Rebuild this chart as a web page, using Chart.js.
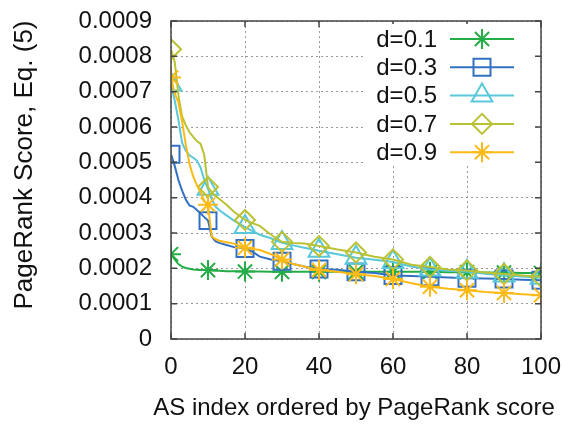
<!DOCTYPE html>
<html>
<head>
<meta charset="utf-8">
<script src="https://cdn.jsdelivr.net/npm/chart.js@4/dist/chart.umd.min.js"></script>
<style>
  html, body { margin: 0; padding: 0; background: #fff; }
  #wrap { width: 563px; height: 424px; }
</style>
</head>
<body>
<div id="wrap"><canvas id="pr_chart"></canvas></div>
<script>
// x positions (AS index) shared by all curves, markers drawn every 10
var xs = [0,1,2,3,4,5,6,7,8,9,10,11,12,13,15,17,20,22,24,27,30,33,36,40,45,50,55,60,65,70,75,80,85,90,95,100];

var d01 = [0.000240,0.000225,0.000212,0.000205,0.000201,0.000199,0.000197,0.000196,0.000195,0.000195,0.000195,0.000194,0.000193,0.000193,0.000192,0.000192,0.000191,0.000191,0.000191,0.000190,0.000190,0.000190,0.000190,0.000190,0.000190,0.000190,0.000190,0.000190,0.000190,0.000190,0.000189,0.000189,0.000188,0.000188,0.000187,0.000187];
var d03 = [0.000523,0.000490,0.000450,0.000420,0.000395,0.000378,0.000374,0.000365,0.000355,0.000345,0.000335,0.000290,0.000277,0.000272,0.000266,0.000260,0.000256,0.000247,0.000233,0.000225,0.000220,0.000212,0.000205,0.000198,0.000196,0.000190,0.000187,0.000180,0.000178,0.000176,0.000174,0.000172,0.000171,0.000170,0.000168,0.000166];
var d05 = [0.000720,0.000675,0.000620,0.000555,0.000533,0.000520,0.000513,0.000505,0.000485,0.000450,0.000425,0.000395,0.000375,0.000365,0.000350,0.000335,0.000317,0.000305,0.000295,0.000285,0.000272,0.000265,0.000258,0.000250,0.000240,0.000230,0.000224,0.000218,0.000205,0.000197,0.000193,0.000190,0.000185,0.000180,0.000177,0.000173];
var d07 = [0.000820,0.000785,0.000690,0.000630,0.000605,0.000585,0.000572,0.000560,0.000552,0.000520,0.000430,0.000415,0.000405,0.000397,0.000380,0.000360,0.000337,0.000328,0.000320,0.000295,0.000275,0.000272,0.000270,0.000263,0.000253,0.000245,0.000233,0.000225,0.000210,0.000204,0.000197,0.000194,0.000188,0.000184,0.000180,0.000176];
var d09 = [0.000740,0.000695,0.000670,0.000615,0.000550,0.000495,0.000460,0.000435,0.000415,0.000390,0.000380,0.000290,0.000283,0.000278,0.000274,0.000270,0.000258,0.000255,0.000252,0.000240,0.000225,0.000212,0.000205,0.000195,0.000190,0.000183,0.000178,0.000170,0.000158,0.000148,0.000142,0.000138,0.000133,0.000130,0.000127,0.000124];

var seriesNames = ["d=0.1", "d=0.3", "d=0.5", "d=0.7", "d=0.9"];
var yTicks = [0, 0.0001, 0.0002, 0.0003, 0.0004, 0.0005, 0.0006, 0.0007, 0.0008, 0.0009];
var xTicks = [0, 20, 40, 60, 80, 100];
var xTitle = 'AS index ordered by PageRank score';
var yTitle = 'PageRank Score, Eq. (5)';

var colors = ["rgb(36,172,70)", "rgb(50,112,196)", "rgb(88,200,218)", "rgb(186,194,52)", "rgb(253,186,22)"];
var styles = ["star", "rect", "triangle", "rectRot", "star"];
var radii = [10, 12, 12, 10, 10];
var FONT = "'Liberation Sans', Arial, sans-serif";

function toPoints(ys) {
    var pts = [];
    for (var i = 0; i < xs.length; i++) {
        pts.push({x: xs[i], y: ys[i]});
    }
    return pts;
}

function makeDataset(i, ys) {
    return {
        label: seriesNames[i],
        data: toPoints(ys),
        borderColor: colors[i],
        backgroundColor: colors[i],
        borderWidth: 2,
        tension: 0,
        pointStyle: styles[i],
        pointBorderColor: colors[i],
        pointBackgroundColor: 'rgba(0,0,0,0)',
        pointBorderWidth: 2,
        pointRadius: function (ctx) {
            return (xs[ctx.dataIndex] % 10 === 0) ? radii[i] : 0;
        },
        order: 5 - i
    };
}

function noOverhang(s) {
    s.paddingLeft = 0;
    s.paddingRight = 0;
    s.paddingTop = 0;
    s.paddingBottom = 0;
}

// box around the plot, inward ticks, axis titles and the legend
var frame = {
    id: 'frame',
    afterDatasetsDraw: function (chart) {
        var c = chart.ctx, a = chart.chartArea;
        var sx = chart.scales.x, sy = chart.scales.y;
        c.save();
        c.strokeStyle = '#444';
        c.lineWidth = 1.5;
        c.strokeRect(a.left, a.top, a.right - a.left, a.bottom - a.top);
        c.beginPath();
        xTicks.forEach(function (v) {
            var px = sx.getPixelForValue(v);
            c.moveTo(px, a.bottom); c.lineTo(px, a.bottom - 6);
            c.moveTo(px, a.top); c.lineTo(px, a.top + 6);
        });
        yTicks.forEach(function (v) {
            var py = sy.getPixelForValue(v);
            c.moveTo(a.left, py); c.lineTo(a.left + 6, py);
            c.moveTo(a.right, py); c.lineTo(a.right - 6, py);
        });
        c.stroke();
        c.restore();
    },
    afterDraw: function (chart) {
        var c = chart.ctx;
        c.save();
        // axis titles
        c.fillStyle = '#111';
        c.font = "24px " + FONT;
        c.textAlign = 'center';
        c.textBaseline = 'middle';
        c.fillText(xTitle, 354, 408);
        c.save();
        c.translate(25, 165);
        c.rotate(-Math.PI / 2);
        c.font = "26px " + FONT;
        c.fillText(yTitle, 0, 0);
        c.restore();

        // legend: text on the left, line + marker sample on the right
        c.fillStyle = '#fff';
        c.fillRect(364, 24, 170, 142);
        c.font = "24px " + FONT;
        c.textAlign = 'right';
        for (var i = 0; i < seriesNames.length; i++) {
            var y = 39 + i * 28.3;
            c.fillStyle = '#111';
            c.fillText(seriesNames[i], 437, y + 1);
            c.strokeStyle = colors[i];
            c.lineWidth = 2;
            c.beginPath();
            c.moveTo(450, y); c.lineTo(514, y);
            c.stroke();
            c.fillStyle = 'rgba(0,0,0,0)';
            Chart.helpers.drawPoint(c, {pointStyle: styles[i], radius: radii[i], rotation: 0, borderWidth: 2}, 482, y);
        }
        c.restore();
    }
};

new Chart(document.getElementById("pr_chart").getContext("2d"), {
    type: 'line',
    data: {
        datasets: [makeDataset(0, d01), makeDataset(1, d03), makeDataset(2, d05), makeDataset(3, d07), makeDataset(4, d09)]
    },
    options: {
        responsive: true,
        maintainAspectRatio: false,
        animation: false,
        layout: { padding: { top: 21, right: 22, left: 0, bottom: 0 } },
        plugins: { legend: { display: false }, tooltip: { enabled: false } },
        scales: {
            x: {
                type: 'linear',
                min: 0,
                max: 100,
                afterFit: function (s) { s.height = 85; noOverhang(s); },
                afterBuildTicks: function (s) { s.ticks = xTicks.map(function (v) { return {value: v}; }); },
                grid: { color: '#999', lineWidth: 1, drawTicks: false },
                border: { display: false, dash: [2, 3] },
                ticks: { color: '#111', padding: 14, font: { family: FONT, size: 24 }, maxRotation: 0 }
            },
            y: {
                type: 'linear',
                min: 0,
                max: 0.0009,
                afterFit: function (s) { s.width = 171; noOverhang(s); },
                afterBuildTicks: function (s) { s.ticks = yTicks.map(function (v) { return {value: v}; }); },
                grid: { color: '#999', lineWidth: 1, drawTicks: false },
                border: { display: false, dash: [2, 3] },
                ticks: {
                    color: '#111', padding: 19, font: { family: FONT, size: 24 },
                    callback: function (v) { return v === 0 ? '0' : v.toFixed(4); }
                }
            }
        }
    },
    plugins: [frame]
});
</script>
</body>
</html>
